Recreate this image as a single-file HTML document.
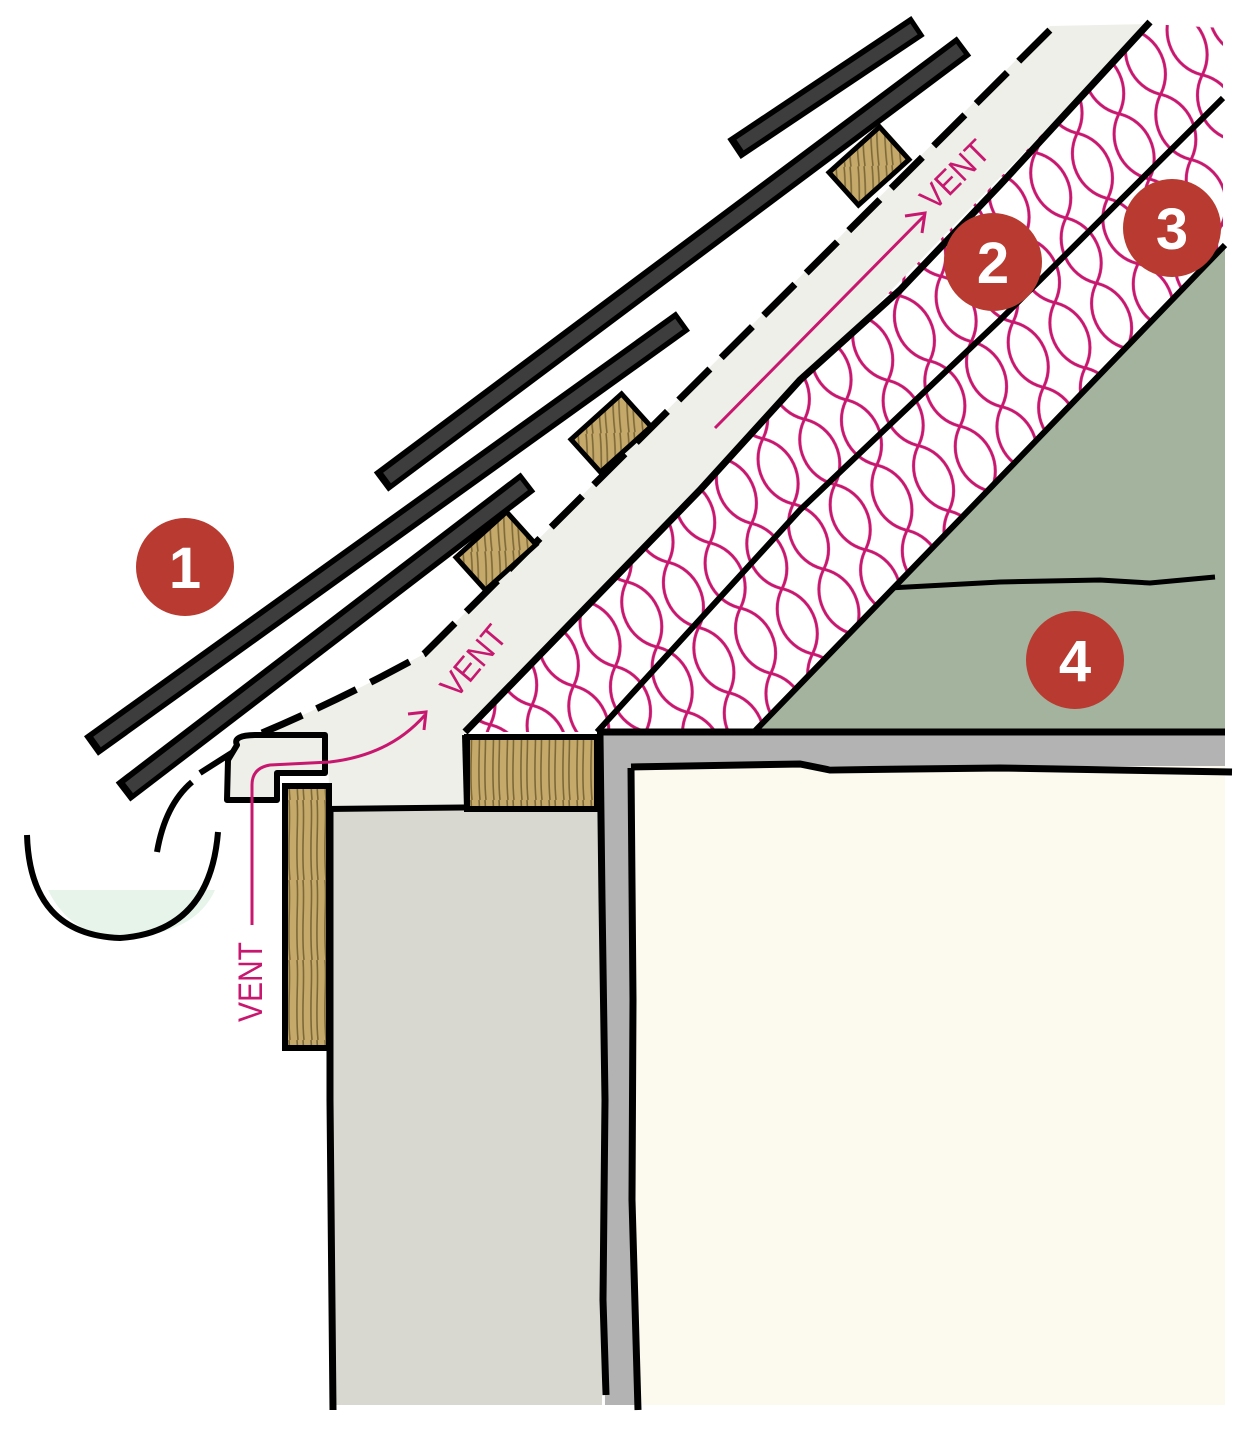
<!DOCTYPE html>
<html><head><meta charset="utf-8"><style>
html,body{margin:0;padding:0;background:#fff;}
svg{display:block;}
text{font-family:"Liberation Sans",sans-serif;}
</style></head><body>
<svg width="1235" height="1432" viewBox="0 0 1235 1432" xmlns="http://www.w3.org/2000/svg">
<defs>
<pattern id="mesh" width="46" height="72" patternUnits="userSpaceOnUse" patternTransform="rotate(-25)">
<path d="M0,0 C23,18 23,54 0,72 M46,0 C23,18 23,54 46,72" fill="none" stroke="#c8176f" stroke-width="3"/>
</pattern>
<pattern id="wood" width="14" height="80" patternUnits="userSpaceOnUse">
<rect width="14" height="80" fill="#c4a96a"/>
<path d="M3,0 C5,20 1,45 4,80 M9,0 C11,25 7,50 10,80" stroke="#7d6838" stroke-width="1.6" fill="none"/>
</pattern>
<pattern id="woodr" width="14" height="80" patternUnits="userSpaceOnUse" patternTransform="rotate(40)">
<rect width="14" height="80" fill="#c4a96a"/>
<path d="M3,0 C5,20 1,45 4,80 M9,0 C11,25 7,50 10,80" stroke="#7d6838" stroke-width="1.6" fill="none"/>
</pattern>
</defs>

<rect x="330" y="806" width="272" height="599" fill="#d8d8d0"/>
<polygon points="597,732 1225,732 1225,766 631,766 637,1405 605,1405 600,809" fill="#b3b3b3"/>
<polygon points="631,766 1225,766 1225,1405 637,1405" fill="#fcfaee"/>
<path d="M600,735 L602,900 L605,1100 L603,1300 L606,1395" stroke="#000" stroke-width="7" fill="none"/>
<path d="M631,768 L633,1000 L632,1200 L638,1410" stroke="#000" stroke-width="7" fill="none"/>
<path d="M631,767 L800,764 L830,770 L1000,768 L1232,772" stroke="#000" stroke-width="7" fill="none"/>
<path d="M330,809 L330,1100 L333,1410" stroke="#000" stroke-width="7" fill="none"/>

<polygon points="754,732 1225,245 1225,732" fill="#a3b39d"/>
<path d="M889,588 L1000,582 L1100,580 L1150,583 L1215,577" stroke="#000" stroke-width="5" fill="none"/>

<polygon points="465,732 1148,24 1223,28 1223,245 754,732" fill="#fff"/>
<polygon points="465,732 1148,24 1223,28 1223,245 754,732" fill="url(#mesh)"/>

<path d="M262,733 Q340,700 424,654 L1050,26 L1148,24 L465,732 L467,809 L330,809 L327,740 Z" fill="#eeefe9"/>
<path d="M237,745 Q232,735 257,735 L325,735 L325,773 L277,773 L277,800 L227,800 L228,760 Z" fill="#eeefe9" stroke="#000" stroke-width="6" stroke-linejoin="round"/>

<path d="M465,732 L700,490 L800,380 L900,290 L1000,185 L1150,22" stroke="#000" stroke-width="7" fill="none"/>
<path d="M597,732 L800,510 L1000,320 L1223,98" stroke="#000" stroke-width="6" fill="none"/>
<path d="M754,732 L1000,478 L1225,245" stroke="#000" stroke-width="6" fill="none"/>
<path d="M465,735 L467,809" stroke="#000" stroke-width="6"/>
<path d="M597,732 L1225,732" stroke="#000" stroke-width="7"/>
<path d="M327,809 L600,806" stroke="#000" stroke-width="6"/>
<path d="M262,733 Q340,700 424,654 L1050,30" stroke="#000" stroke-width="7" fill="none" stroke-dasharray="44 16"/>
<path d="M157,852 Q165,805 192,782 M200,773 L233,752" stroke="#000" stroke-width="6" fill="none"/>

<rect x="467" y="737" width="130" height="72" fill="url(#wood)" stroke="#000" stroke-width="6"/>
<rect x="285" y="786" width="44" height="262" fill="url(#wood)" stroke="#000" stroke-width="6"/>

<g stroke="#000" stroke-width="5" fill="url(#woodr)">
<rect x="-34" y="-22" width="68" height="44" transform="translate(869,166) rotate(-42)"/>
<rect x="-34" y="-22" width="68" height="44" transform="translate(611,433) rotate(-42)"/>
<rect x="-34" y="-22" width="68" height="44" transform="translate(496,551) rotate(-42)"/>
</g>

<g stroke-linecap="butt">
<line x1="734" y1="149" x2="918" y2="26" stroke="#000" stroke-width="24"/>
<line x1="740" y1="145" x2="914" y2="29" stroke="#3d3d3d" stroke-width="13"/>
<line x1="381" y1="482" x2="964" y2="46" stroke="#000" stroke-width="24"/>
<line x1="387" y1="478" x2="960" y2="49" stroke="#3d3d3d" stroke-width="13"/>
<line x1="91" y1="746" x2="683" y2="321" stroke="#000" stroke-width="24"/>
<line x1="97" y1="742" x2="679" y2="324" stroke="#3d3d3d" stroke-width="13"/>
<line x1="123" y1="792" x2="528" y2="482" stroke="#000" stroke-width="24"/>
<line x1="129" y1="788" x2="524" y2="485" stroke="#3d3d3d" stroke-width="13"/>
</g>

<path d="M48,890 L215,890 Q195,935 120,938 Q70,935 48,890 Z" fill="#e6f4ea"/>
<path d="M27,835 Q30,935 120,938 Q210,932 218,832" stroke="#000" stroke-width="6" fill="none"/>

<g stroke="#c8176f" stroke-width="3" fill="none">
<path d="M252,925 L252,785 Q252,768 270,765 L330,762 Q390,755 425,715"/>
<path d="M408,714 L426,712 L424,730"/>
<path d="M715,428 L925,215"/>
<path d="M905,216 L925,213 L922,233"/>
</g>
<g fill="#c8176f" font-size="34">
<text transform="translate(262,1022) rotate(-90)" textLength="80" lengthAdjust="spacingAndGlyphs">VENT</text>
<text transform="translate(456,700) rotate(-50)" textLength="82" lengthAdjust="spacingAndGlyphs">VENT</text>
<text transform="translate(934,212) rotate(-45)" textLength="82" lengthAdjust="spacingAndGlyphs">VENT</text>
</g>

<g fill="#b93a30">
<circle cx="185" cy="567" r="49"/>
<circle cx="993" cy="262" r="49"/>
<circle cx="1172" cy="228" r="49"/>
<circle cx="1075" cy="660" r="49"/>
</g>
<g fill="#fff" font-size="58" font-weight="bold" text-anchor="middle">
<text x="185" y="588">1</text>
<text x="993" y="283">2</text>
<text x="1172" y="249">3</text>
<text x="1075" y="681">4</text>
</g>
</svg>
</body></html>
